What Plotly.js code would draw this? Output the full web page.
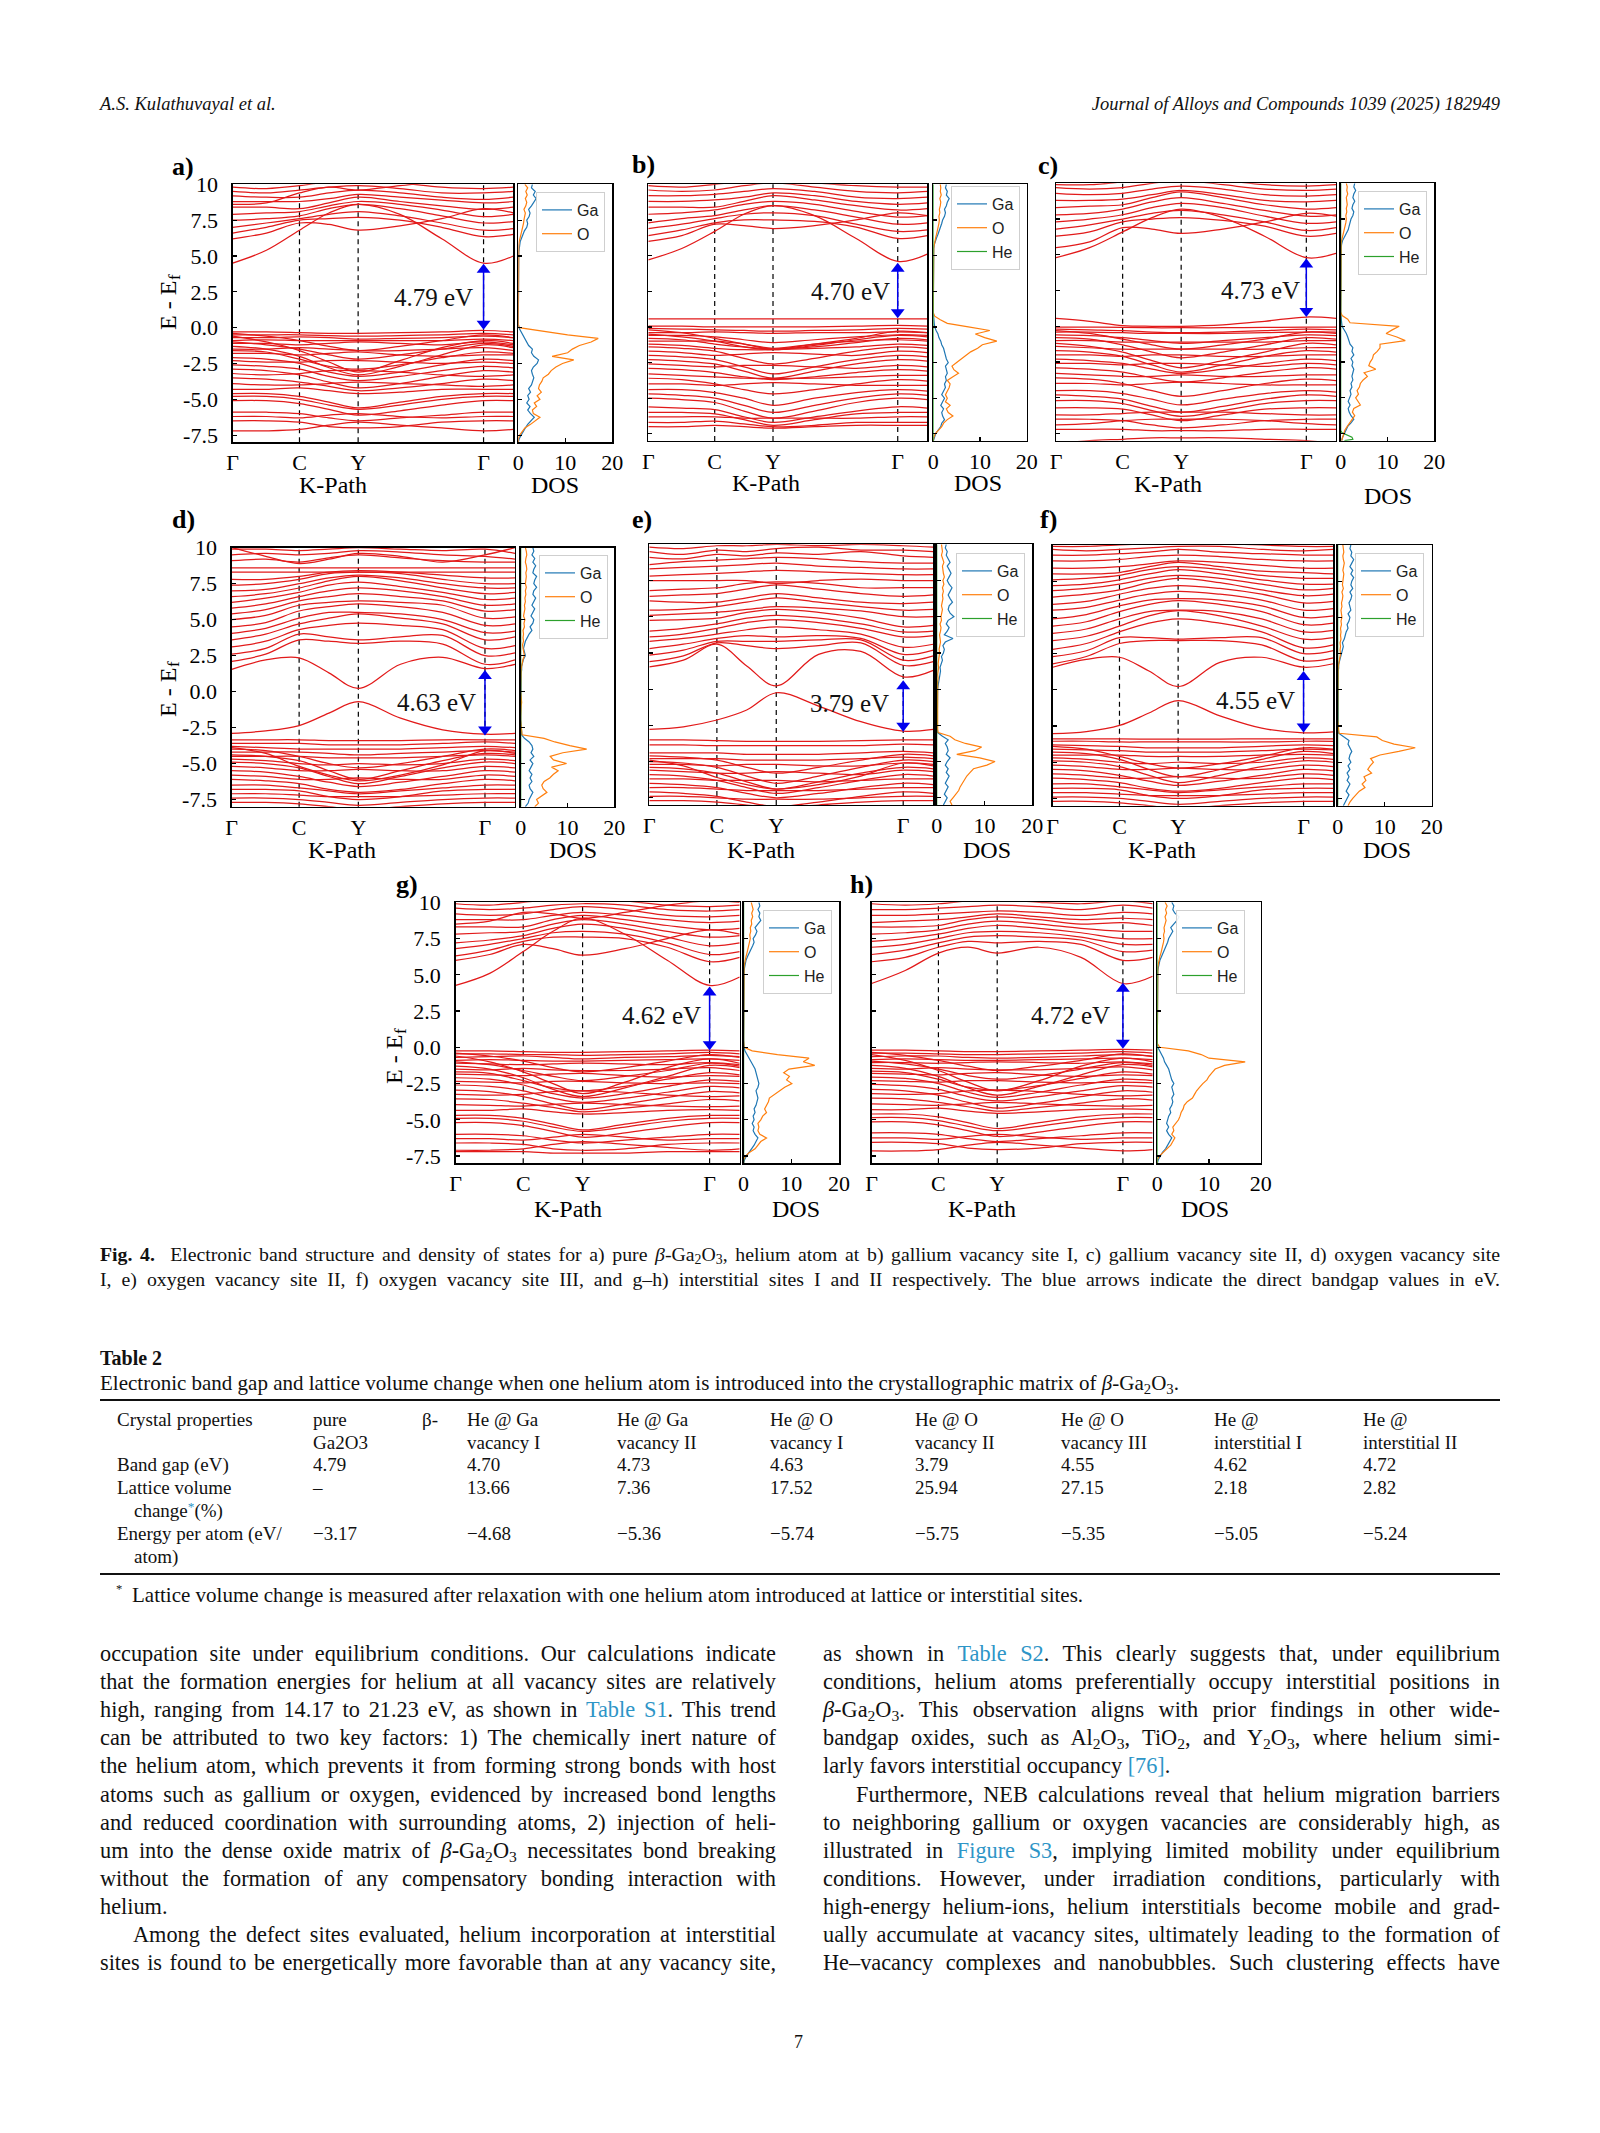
<!DOCTYPE html>
<html><head><meta charset="utf-8">
<script src="https://cdn.plot.ly/plotly-3.0.1.min.js"></script>
<style>
html,body{margin:0;padding:0;background:#fff;}
#page{position:relative;width:1600px;height:2133px;overflow:hidden;background:#fff;}
#chart{position:absolute;left:0;top:0;width:1600px;height:2133px;}
.t,.jj{position:absolute;font-family:"Liberation Serif","Times New Roman",serif;color:#111;white-space:nowrap;}
.lk{color:#2e95c7;}
sub{font-size:0.7em;vertical-align:-0.25em;line-height:0;}
sup{font-size:0.7em;vertical-align:0.45em;line-height:0;}
.rule{position:absolute;left:100px;width:1400px;height:2px;background:#111;}
</style></head><body>
<div id="page"><div id="chart"></div><div id="texts"></div></div>
<script>
// ---------------- DATA ----------------
const kPath = [0, 0.12, 0.238, 0.343, 0.447, 0.596, 0.745, 0.894, 1.0];
const kTickVals = [0, 0.238, 0.447, 0.894];
const kTickText = ['Γ', 'C', 'Y', 'Γ'];
const energyTicks = [-7.5, -5, -2.5, 0, 2.5, 5, 7.5, 10];
const energyTickText = ['-7.5', '-5.0', '-2.5', '0.0', '2.5', '5.0', '7.5', '10'];
const dosTicks = [0, 10, 20];
const panelLetters = ['a)', 'b)', 'c)', 'd)', 'e)', 'f)', 'g)', 'h)'];
const gapLabels = ['4.79 eV', '4.70 eV', '4.73 eV', '4.63 eV', '3.79 eV', '4.55 eV', '4.62 eV', '4.72 eV'];
const gapArrowEnds = [[-0.15, 4.45], [0.6, 4.5], [0.65, 4.75], [-3.05, 1.5], [-2.95, 0.62], [-2.95, 1.3], [-0.2, 4.2], [-0.1, 4.45]];
const gapK = 0.894;

const bandsA = [
[4.5,5.4,6.8,8.0,8.6,7.9,6.2,4.5,5.0],
[6.2,6.6,7.3,7.2,6.8,7.1,7.6,8.3,8.0],
[6.6,7.0,7.5,7.6,7.7,7.5,7.0,6.35,6.5],
[7.0,7.3,7.6,7.9,8.1,7.8,7.3,6.8,6.9],
[7.5,7.6,7.8,8.3,8.6,8.3,7.8,7.3,7.4],
[7.9,8.0,8.1,8.5,8.8,8.6,8.2,7.75,7.9],
[8.4,8.4,8.3,8.7,9.1,8.8,8.5,8.25,8.4],
[8.8,8.8,8.8,9.0,9.3,9.1,8.9,8.7,8.8],
[9.2,9.1,9.1,9.4,9.6,9.4,9.1,8.95,9.1],
[9.5,9.4,9.6,9.8,9.9,9.7,9.4,9.4,9.5],
[9.8,9.7,9.9,10.2,10.3,10.1,9.8,9.7,9.8],
[8.6,8.7,9.4,9.8,9.6,9.9,10.2,10.3,10.2],
[-0.3,-0.3,-0.35,-0.4,-0.4,-0.35,-0.3,-0.2,-0.3],
[-0.5,-0.5,-0.5,-0.55,-0.6,-0.55,-0.5,-0.4,-0.5],
[-0.7,-0.7,-0.65,-0.7,-0.8,-0.75,-0.7,-0.6,-0.7],
[-0.9,-0.85,-0.9,-0.9,-0.9,-0.9,-0.9,-0.8,-0.9],
[-0.6,-1.0,-1.6,-2.4,-3.1,-2.3,-1.4,-0.9,-1.1],
[-0.4,-0.6,-0.9,-1.3,-1.6,-1.3,-0.9,-0.5,-0.7],
[-1.1,-1.1,-1.2,-1.1,-1.0,-1.1,-1.2,-1.0,-1.2],
[-1.0,-1.2,-1.5,-1.9,-2.2,-1.9,-1.5,-1.1,-1.3],
[-1.3,-1.5,-2.0,-2.8,-3.3,-2.7,-1.9,-1.2,-1.4],
[-1.5,-1.5,-1.4,-1.5,-1.6,-1.6,-1.5,-1.4,-1.6],
[-1.6,-1.7,-2.2,-2.7,-2.9,-2.6,-2.1,-1.7,-1.8],
[-1.8,-1.8,-1.9,-1.8,-1.7,-1.9,-2.0,-1.9,-1.9],
[-2.1,-2.2,-2.5,-3.1,-3.4,-3.1,-2.6,-2.2,-2.3],
[-2.3,-2.4,-2.4,-2.3,-2.3,-2.4,-2.5,-2.4,-2.5],
[-2.6,-2.7,-2.9,-3.4,-3.7,-3.4,-3.0,-2.7,-2.8],
[-2.9,-3.0,-3.3,-3.8,-4.2,-3.9,-3.4,-3.0,-3.1],
[-3.2,-3.3,-3.2,-3.0,-3.0,-3.1,-3.3,-3.4,-3.3],
[-3.5,-3.6,-3.8,-4.1,-4.4,-4.2,-3.9,-3.6,-3.7],
[-3.9,-4.0,-4.0,-3.9,-3.8,-3.9,-4.0,-4.1,-4.0],
[-4.3,-4.3,-4.2,-4.4,-4.6,-4.5,-4.3,-4.3,-4.3],
[-4.6,-4.6,-4.8,-5.2,-5.6,-5.2,-4.8,-4.6,-4.6],
[-4.8,-4.8,-5.0,-5.4,-5.7,-5.4,-5.0,-4.8,-4.8],
[-5.1,-5.1,-5.3,-5.7,-6.1,-5.8,-5.4,-5.1,-5.1],
[-5.9,-5.9,-6.0,-6.3,-6.5,-6.3,-6.1,-5.9,-5.9],
[-6.2,-6.2,-6.3,-6.1,-6.0,-6.2,-6.3,-6.2,-6.2],
[-6.5,-6.5,-6.6,-6.9,-7.0,-6.9,-6.6,-6.5,-6.5],
[-7.2,-7.2,-7.1,-6.8,-6.6,-6.8,-7.0,-7.2,-7.1]
];

const bandsB = [
[4.7,5.5,6.7,7.9,8.5,7.8,6.2,4.6,5.1],
[6.0,6.4,7.2,7.1,6.9,7.1,7.5,8.0,7.8],
[6.4,6.8,7.3,7.5,7.5,7.4,7.0,6.2,6.4],
[6.9,7.2,7.6,7.9,8.0,7.8,7.2,6.7,6.8],
[7.3,7.6,7.8,8.2,8.5,8.2,7.7,7.2,7.3],
[7.9,8.0,8.2,8.6,8.8,8.6,8.1,7.7,7.8],
[8.4,8.4,8.4,8.8,9.2,8.9,8.5,8.2,8.3],
[8.8,8.8,8.9,9.1,9.4,9.2,8.8,8.6,8.7],
[9.2,9.2,9.3,9.5,9.7,9.5,9.1,9.0,9.1],
[9.6,9.5,9.6,9.9,10.1,9.8,9.5,9.4,9.5],
[9.9,9.8,10.0,10.2,10.3,10.1,9.9,9.8,9.8],
[0.56,0.56,0.56,0.56,0.56,0.56,0.56,0.56,0.56],
[0.05,0.05,0.0,0.0,0.0,0.0,0.05,0.1,0.05],
[-0.1,-0.15,-0.2,-0.25,-0.3,-0.25,-0.2,-0.1,-0.15],
[-0.4,-0.4,-0.35,-0.4,-0.45,-0.4,-0.4,-0.35,-0.4],
[-0.2,-0.4,-0.8,-1.2,-1.55,-1.2,-0.8,-0.3,-0.4],
[-0.5,-0.7,-1.0,-1.4,-1.6,-1.3,-0.9,-0.6,-0.7],
[-0.6,-0.6,-0.7,-0.9,-1.1,-0.9,-0.7,-0.55,-0.6],
[-0.8,-0.9,-1.2,-1.4,-1.55,-1.4,-1.1,-0.8,-0.9],
[-1.0,-1.0,-1.0,-1.2,-1.5,-1.2,-1.0,-0.9,-1.0],
[-1.2,-1.3,-1.5,-1.6,-1.6,-1.5,-1.4,-1.2,-1.3],
[-1.4,-1.5,-1.7,-2.2,-2.6,-2.2,-1.7,-1.4,-1.5],
[-1.7,-1.8,-2.0,-1.9,-1.8,-1.9,-2.0,-1.7,-1.8],
[-2.0,-2.1,-2.3,-2.8,-3.3,-2.8,-2.3,-2.0,-2.1],
[-2.3,-2.4,-2.6,-3.1,-3.6,-3.1,-2.6,-2.3,-2.4],
[-2.6,-2.7,-2.8,-2.7,-2.7,-2.8,-2.9,-2.7,-2.8],
[-2.9,-3.0,-3.2,-3.5,-3.7,-3.5,-3.2,-3.0,-3.1],
[-3.3,-3.4,-3.5,-3.6,-3.6,-3.6,-3.5,-3.4,-3.4],
[-3.6,-3.7,-4.0,-4.4,-4.7,-4.4,-4.0,-3.7,-3.8],
[-4.0,-4.0,-4.1,-4.0,-3.9,-4.0,-4.1,-4.1,-4.1],
[-4.4,-4.4,-4.6,-5.0,-5.5,-5.0,-4.6,-4.4,-4.5],
[-4.7,-4.8,-5.0,-5.5,-6.0,-5.5,-5.0,-4.7,-4.8],
[-5.0,-5.1,-5.3,-5.9,-6.4,-5.9,-5.3,-5.0,-5.1],
[-5.6,-5.7,-5.8,-6.3,-6.7,-6.3,-5.9,-5.6,-5.7],
[-6.0,-6.0,-6.1,-6.5,-6.9,-6.5,-6.1,-6.0,-6.0],
[-6.3,-6.3,-6.3,-6.4,-6.4,-6.4,-6.4,-6.3,-6.3],
[-6.7,-6.7,-6.6,-6.8,-7.0,-6.9,-6.7,-6.7,-6.7],
[-7.0,-7.0,-6.9,-7.0,-7.1,-7.0,-6.9,-6.9,-6.9]
];

const bandsC = [
[4.8,5.5,6.6,7.6,8.2,7.6,6.3,4.8,5.1],
[5.5,5.9,6.9,6.8,6.5,6.8,7.3,7.9,7.7],
[6.3,6.6,7.3,7.5,7.6,7.4,7.0,6.3,6.5],
[6.8,7.1,7.5,7.9,8.1,7.8,7.3,6.7,6.9],
[7.3,7.5,7.8,8.3,8.6,8.3,7.7,7.2,7.3],
[7.8,7.9,8.2,8.7,9.0,8.6,8.1,7.7,7.8],
[8.3,8.4,8.5,9.0,9.4,9.0,8.5,8.2,8.3],
[8.8,8.8,8.9,9.2,9.5,9.2,8.8,8.7,8.8],
[9.3,9.2,9.3,9.6,9.8,9.6,9.2,9.1,9.2],
[9.7,9.6,9.7,10.0,10.2,9.9,9.6,9.5,9.6],
[9.9,9.9,10.1,10.3,10.4,10.2,9.9,9.8,9.9],
[0.55,0.35,0.05,0.0,0.0,0.1,0.35,0.65,0.55],
[-0.05,-0.05,-0.08,-0.1,-0.1,-0.1,-0.08,-0.05,-0.05],
[-0.2,-0.25,-0.3,-0.4,-0.45,-0.4,-0.3,-0.2,-0.25],
[-0.4,-0.4,-0.45,-0.5,-0.5,-0.5,-0.45,-0.4,-0.4],
[-0.3,-0.5,-0.9,-1.3,-1.6,-1.3,-0.9,-0.4,-0.5],
[-0.6,-0.65,-0.8,-1.0,-1.2,-1.0,-0.8,-0.6,-0.65],
[-0.8,-0.9,-1.3,-1.8,-2.2,-1.8,-1.3,-0.8,-0.9],
[-1.0,-1.0,-1.1,-1.1,-1.1,-1.1,-1.1,-1.0,-1.0],
[-1.2,-1.4,-1.8,-2.4,-2.9,-2.4,-1.8,-1.2,-1.3],
[-1.4,-1.5,-1.6,-1.6,-1.6,-1.6,-1.6,-1.5,-1.5],
[-1.7,-1.8,-2.1,-2.7,-3.2,-2.7,-2.1,-1.7,-1.8],
[-2.0,-2.0,-2.1,-2.0,-2.0,-2.1,-2.1,-2.0,-2.0],
[-2.3,-2.4,-2.6,-3.0,-3.3,-3.0,-2.6,-2.3,-2.4],
[-2.6,-2.6,-2.7,-2.6,-2.6,-2.7,-2.8,-2.6,-2.7],
[-2.9,-3.0,-3.2,-3.6,-3.9,-3.6,-3.2,-2.9,-3.0],
[-3.3,-3.4,-3.5,-3.5,-3.4,-3.5,-3.5,-3.4,-3.4],
[-3.6,-3.7,-4.0,-4.5,-4.9,-4.5,-4.0,-3.7,-3.8],
[-4.0,-4.0,-4.1,-4.0,-3.9,-4.0,-4.1,-4.1,-4.1],
[-4.5,-4.5,-4.7,-5.1,-5.5,-5.1,-4.7,-4.5,-4.6],
[-4.8,-4.9,-5.1,-5.6,-6.0,-5.6,-5.1,-4.8,-4.9],
[-5.2,-5.2,-5.4,-5.9,-6.3,-5.9,-5.4,-5.2,-5.2],
[-5.7,-5.7,-5.8,-6.2,-6.6,-6.2,-5.8,-5.7,-5.7],
[-6.2,-6.2,-6.1,-6.0,-6.0,-6.0,-6.1,-6.2,-6.2],
[-6.5,-6.5,-6.6,-6.9,-7.1,-6.9,-6.6,-6.5,-6.5],
[-6.9,-6.8,-6.6,-6.5,-6.5,-6.5,-6.6,-6.8,-6.9],
[-7.2,-7.2,-7.2,-7.3,-7.3,-7.3,-7.2,-7.2,-7.2],
[-8.2,-8.0,-7.9,-7.8,-7.8,-7.8,-7.9,-8.0,-8.2]
];

const bandsD = [
[-2.9,-2.73,-2.36,-1.5,-0.7,-1.85,-2.66,-2.96,-2.9],
[1.55,2.2,2.35,1.3,0.23,1.9,2.38,1.6,1.9],
[2.1,2.6,3.6,3.5,3.35,3.5,3.3,1.9,2.2],
[2.6,3.0,4.0,3.8,3.6,3.8,3.9,2.5,2.7],
[3.1,3.5,4.3,4.6,4.75,4.6,4.3,3.0,3.2],
[3.6,4.0,4.7,5.1,5.4,5.1,4.7,3.6,3.8],
[4.05,4.4,5.1,5.5,5.5,5.4,5.0,4.1,4.2],
[4.5,4.8,5.6,5.9,6.1,5.9,5.5,4.6,4.7],
[5.0,5.3,6.0,6.2,6.3,6.2,6.0,5.1,5.2],
[5.4,5.7,6.3,6.6,6.8,6.6,6.3,5.6,5.7],
[5.8,6.1,6.6,7.0,7.2,7.0,6.6,6.0,6.1],
[6.2,6.5,6.9,7.4,7.6,7.3,6.9,6.4,6.5],
[6.6,6.8,7.2,7.7,8.0,7.7,7.2,6.8,6.9],
[7.0,7.1,7.5,7.9,8.1,7.9,7.5,7.2,7.2],
[7.4,7.5,7.8,8.2,8.3,8.2,7.8,7.5,7.5],
[7.8,7.8,8.0,8.3,8.4,8.3,8.1,7.9,7.9],
[8.3,8.3,8.3,8.3,8.3,8.3,8.3,8.3,8.3],
[8.6,8.6,8.6,8.6,8.6,8.6,8.6,8.6,8.6],
[9.1,9.2,9.0,9.3,9.5,9.3,9.1,9.0,9.0],
[9.5,9.6,9.5,9.6,9.8,9.7,9.5,9.4,9.2],
[9.9,9.9,9.8,9.9,10.0,9.9,9.8,9.9,9.6],
[10.0,9.4,8.9,9.2,9.6,9.4,9.0,9.5,10.0],
[-3.35,-3.35,-3.35,-3.4,-3.4,-3.4,-3.35,-3.35,-3.35],
[-3.6,-3.6,-3.6,-3.7,-3.7,-3.7,-3.6,-3.5,-3.6],
[-3.8,-3.9,-4.0,-4.0,-4.0,-4.0,-3.9,-3.8,-3.9],
[-4.0,-4.1,-4.5,-5.0,-5.3,-5.0,-4.5,-4.0,-4.1],
[-4.2,-4.2,-4.2,-4.3,-4.4,-4.3,-4.2,-4.1,-4.2],
[-4.4,-4.5,-4.8,-5.5,-6.1,-5.5,-4.8,-4.3,-4.4],
[-4.5,-4.5,-4.5,-4.6,-4.6,-4.6,-4.5,-4.4,-4.5],
[-4.7,-4.8,-5.0,-5.1,-5.0,-5.1,-5.0,-4.7,-4.8],
[-4.9,-5.0,-5.3,-5.9,-6.4,-5.9,-5.3,-4.9,-5.0],
[-5.2,-5.3,-5.5,-5.5,-5.4,-5.5,-5.5,-5.2,-5.3],
[-5.5,-5.6,-5.9,-6.3,-6.6,-6.3,-5.9,-5.5,-5.6],
[-5.8,-5.9,-6.1,-6.1,-6.0,-6.1,-6.1,-5.8,-5.9],
[-6.1,-6.2,-6.4,-6.8,-7.0,-6.8,-6.4,-6.1,-6.2],
[-6.5,-6.5,-6.7,-6.9,-7.1,-6.9,-6.7,-6.5,-6.5],
[-6.8,-6.8,-6.9,-7.3,-7.5,-7.3,-6.9,-6.8,-6.8],
[-7.1,-7.1,-7.2,-7.3,-7.3,-7.3,-7.2,-7.1,-7.1],
[-7.4,-7.4,-7.5,-7.7,-7.9,-7.7,-7.5,-7.4,-7.4],
[-7.7,-7.7,-7.8,-8.0,-8.2,-8.0,-7.8,-7.7,-7.7],
[-3.9,-4.3,-5.2,-5.8,-6.2,-5.8,-5.1,-4.1,-4.3]
];

const bandsE = [
[-2.78,-2.6,-2.13,-1.44,-0.25,-1.17,-2.25,-2.9,-2.78],
[1.54,2.0,3.1,1.6,0.23,2.4,2.6,0.85,1.3],
[1.9,2.3,3.2,3.0,2.8,3.0,3.2,1.65,1.9],
[2.35,2.7,3.3,3.3,3.3,3.4,3.4,2.0,2.3],
[2.8,3.1,3.5,3.7,3.6,3.7,3.5,2.4,2.7],
[3.3,3.5,3.8,4.1,4.3,4.1,3.8,2.9,3.1],
[3.6,3.8,4.2,4.6,4.8,4.6,4.2,3.6,3.7],
[4.0,4.2,4.5,4.9,5.1,4.9,4.5,3.95,4.0],
[4.75,4.8,4.9,5.3,5.5,5.3,4.9,4.3,4.4],
[5.1,5.2,5.3,5.5,5.7,5.6,5.4,5.0,5.0],
[5.45,5.5,5.7,6.0,6.3,6.0,5.7,5.45,5.5],
[6.1,6.0,6.0,6.3,6.6,6.3,6.0,5.9,6.0],
[6.4,6.5,6.6,6.9,7.2,6.9,6.6,6.4,6.5],
[6.8,6.9,7.0,7.3,7.4,7.3,7.0,7.0,7.0],
[7.5,7.5,7.5,7.5,7.3,7.5,7.6,7.5,7.5],
[7.8,7.9,8.0,8.1,8.2,8.1,8.0,7.9,7.9],
[8.3,8.4,8.5,8.6,8.7,8.5,8.4,8.3,8.3],
[8.6,8.8,8.9,9.0,9.1,9.0,8.8,8.7,8.7],
[9.1,9.0,9.3,9.2,9.4,9.3,9.5,9.2,9.1],
[9.5,9.3,9.6,9.5,9.7,9.8,9.6,9.6,9.5],
[9.8,9.7,9.9,9.9,10.0,9.9,10.0,9.9,9.8],
[-3.5,-3.5,-3.55,-3.6,-3.6,-3.6,-3.55,-3.5,-3.5],
[-3.85,-3.85,-3.9,-3.9,-3.9,-3.9,-3.9,-3.8,-3.85],
[-4.4,-4.4,-4.4,-4.5,-4.5,-4.5,-4.4,-4.3,-4.4],
[-4.6,-4.7,-4.9,-5.4,-5.8,-5.4,-4.9,-4.5,-4.6],
[-4.8,-4.8,-4.8,-4.9,-4.9,-4.9,-4.8,-4.7,-4.8],
[-5.0,-5.1,-5.4,-6.0,-6.5,-6.0,-5.4,-4.9,-5.0],
[-5.2,-5.2,-5.3,-5.2,-5.2,-5.3,-5.3,-5.1,-5.2],
[-5.4,-5.5,-5.8,-6.4,-6.9,-6.4,-5.8,-5.4,-5.5],
[-5.6,-5.7,-5.8,-5.8,-5.7,-5.8,-5.9,-5.6,-5.7],
[-5.9,-6.0,-6.3,-6.8,-7.2,-6.8,-6.3,-5.9,-6.0],
[-6.2,-6.2,-6.3,-6.3,-6.3,-6.4,-6.3,-6.2,-6.2],
[-6.5,-6.6,-6.8,-7.2,-7.5,-7.2,-6.8,-6.5,-6.6],
[-6.8,-6.8,-6.9,-7.0,-7.0,-7.0,-6.9,-6.8,-6.8],
[-7.1,-7.2,-7.4,-7.8,-8.1,-7.8,-7.4,-7.1,-7.2],
[-7.4,-7.4,-7.5,-7.6,-7.6,-7.6,-7.5,-7.4,-7.4],
[-7.7,-7.7,-7.8,-8.0,-8.2,-8.0,-7.8,-7.7,-7.7],
[-4.9,-5.3,-6.1,-6.6,-6.9,-6.6,-6.0,-5.1,-5.3]
];

const bandsF = [
[-3.03,-2.88,-2.46,-1.6,-0.74,-1.8,-2.65,-2.97,-2.9],
[1.56,2.1,2.25,1.3,0.23,1.9,2.25,1.56,1.8],
[1.8,2.3,3.2,3.4,3.4,3.4,3.1,2.0,2.2],
[2.3,2.7,3.6,3.6,3.5,3.6,3.6,2.5,2.7],
[2.8,3.2,4.0,4.6,4.9,4.6,4.0,2.9,3.1],
[3.4,3.7,4.4,5.1,5.47,5.1,4.4,3.5,3.6],
[3.9,4.2,4.9,5.4,5.5,5.4,4.9,4.0,4.1],
[4.4,4.7,5.4,5.9,6.16,5.9,5.4,4.5,4.6],
[4.9,5.2,5.8,6.2,6.3,6.2,5.8,5.0,5.1],
[5.5,5.7,6.2,6.6,6.8,6.6,6.2,5.5,5.6],
[5.9,6.1,6.6,7.0,7.2,7.0,6.6,6.0,6.1],
[6.4,6.6,6.9,7.4,7.7,7.4,6.9,6.5,6.6],
[6.85,7.0,7.3,7.7,7.9,7.7,7.3,6.9,7.0],
[7.2,7.3,7.6,8.0,8.3,8.0,7.6,7.3,7.3],
[7.6,7.7,7.9,8.3,8.5,8.3,7.9,7.7,7.7],
[8.0,8.0,8.1,8.5,8.8,8.5,8.2,8.1,8.0],
[8.4,8.4,8.5,8.7,8.9,8.8,8.6,8.4,8.4],
[8.9,8.9,9.0,9.2,9.3,9.2,9.0,8.9,8.9],
[9.3,9.3,9.4,9.5,9.7,9.5,9.4,9.3,9.3],
[9.7,9.6,9.7,9.8,9.9,9.9,9.7,9.6,9.7],
[9.9,9.9,10.0,10.1,10.2,10.1,10.0,9.9,9.9],
[-3.38,-3.38,-3.38,-3.4,-3.4,-3.4,-3.38,-3.38,-3.38],
[-3.55,-3.55,-3.6,-3.6,-3.6,-3.6,-3.6,-3.55,-3.55],
[-3.8,-3.85,-3.9,-4.0,-4.0,-4.0,-3.9,-3.8,-3.85],
[-3.9,-4.1,-4.6,-5.1,-5.4,-5.1,-4.6,-4.0,-4.1],
[-4.1,-4.15,-4.2,-4.3,-4.3,-4.3,-4.2,-4.1,-4.15],
[-4.3,-4.4,-4.8,-5.5,-6.0,-5.5,-4.8,-4.25,-4.4],
[-4.5,-4.5,-4.5,-4.6,-4.6,-4.6,-4.5,-4.45,-4.5],
[-4.7,-4.8,-5.0,-5.1,-5.0,-5.1,-5.0,-4.7,-4.8],
[-4.9,-5.0,-5.3,-5.9,-6.4,-5.9,-5.3,-4.9,-5.0],
[-5.2,-5.3,-5.5,-5.5,-5.4,-5.5,-5.5,-5.2,-5.3],
[-5.5,-5.6,-5.9,-6.3,-6.6,-6.3,-5.9,-5.5,-5.6],
[-5.8,-5.9,-6.1,-6.1,-6.0,-6.1,-6.1,-5.8,-5.9],
[-6.1,-6.2,-6.4,-6.8,-7.0,-6.8,-6.4,-6.1,-6.2],
[-6.5,-6.5,-6.7,-6.9,-7.1,-6.9,-6.7,-6.5,-6.5],
[-6.8,-6.8,-6.9,-7.3,-7.5,-7.3,-6.9,-6.8,-6.8],
[-7.1,-7.1,-7.2,-7.3,-7.3,-7.3,-7.2,-7.1,-7.1],
[-7.4,-7.4,-7.5,-7.7,-7.9,-7.7,-7.5,-7.4,-7.4],
[-7.7,-7.7,-7.8,-8.0,-8.2,-8.0,-7.8,-7.7,-7.7]
];

const bandsG = [
[4.27,5.1,6.6,8.0,8.9,7.8,6.0,4.27,4.85],
[6.0,6.4,7.1,6.8,6.35,6.8,7.5,8.1,7.8],
[6.3,6.7,7.3,7.6,7.6,7.5,6.9,5.9,6.2],
[6.8,7.1,7.5,7.9,8.0,7.8,7.2,6.4,6.6],
[7.2,7.4,7.7,8.2,8.5,8.2,7.6,7.0,7.2],
[7.8,7.9,8.0,8.5,8.8,8.5,8.0,7.6,7.7],
[8.3,8.3,8.3,8.8,9.1,8.8,8.4,8.1,8.2],
[8.8,8.8,8.8,9.1,9.3,9.1,8.8,8.6,8.7],
[9.2,9.1,9.2,9.5,9.7,9.5,9.1,9.0,9.1],
[9.6,9.5,9.6,9.8,9.9,9.8,9.5,9.4,9.5],
[9.9,9.8,10.0,10.2,10.3,10.1,9.8,9.7,9.8],
[8.5,8.7,9.3,9.2,8.9,9.3,9.8,10.1,10.0],
[-0.25,-0.25,-0.3,-0.35,-0.35,-0.3,-0.25,-0.2,-0.25],
[-0.45,-0.45,-0.5,-0.5,-0.55,-0.5,-0.45,-0.35,-0.45],
[-0.7,-0.65,-0.6,-0.7,-0.8,-0.7,-0.65,-0.55,-0.65],
[-0.9,-0.85,-0.9,-0.95,-0.95,-0.9,-0.85,-0.8,-0.9],
[-0.6,-1.0,-1.7,-2.5,-3.2,-2.4,-1.4,-0.8,-1.1],
[-0.4,-0.6,-0.95,-1.4,-1.7,-1.4,-0.95,-0.5,-0.7],
[-1.1,-1.15,-1.2,-1.15,-1.1,-1.15,-1.2,-1.05,-1.2],
[-1.0,-1.2,-1.6,-2.0,-2.3,-2.0,-1.6,-1.1,-1.3],
[-1.3,-1.5,-2.1,-2.9,-3.4,-2.8,-2.0,-1.25,-1.4],
[-1.5,-1.55,-1.45,-1.55,-1.6,-1.6,-1.5,-1.4,-1.6],
[-1.7,-1.8,-2.3,-2.8,-3.0,-2.7,-2.2,-1.75,-1.9],
[-1.85,-1.9,-1.95,-1.85,-1.8,-1.95,-2.05,-1.95,-2.0],
[-2.1,-2.2,-2.6,-3.2,-3.5,-3.2,-2.7,-2.25,-2.35],
[-2.35,-2.4,-2.45,-2.35,-2.35,-2.45,-2.5,-2.45,-2.5],
[-2.6,-2.7,-3.0,-3.5,-3.8,-3.5,-3.1,-2.7,-2.8],
[-2.95,-3.05,-3.4,-3.9,-4.3,-3.9,-3.45,-3.05,-3.15],
[-3.25,-3.3,-3.25,-3.05,-3.0,-3.1,-3.3,-3.4,-3.35],
[-3.55,-3.6,-3.85,-4.15,-4.45,-4.2,-3.9,-3.6,-3.7],
[-3.95,-4.0,-4.05,-3.95,-3.85,-3.95,-4.05,-4.1,-4.05],
[-4.35,-4.35,-4.25,-4.45,-4.6,-4.5,-4.35,-4.3,-4.35],
[-4.7,-4.7,-4.9,-5.3,-5.7,-5.3,-4.9,-4.7,-4.7],
[-4.9,-4.9,-5.1,-5.5,-5.8,-5.5,-5.1,-4.9,-4.9],
[-5.2,-5.2,-5.4,-5.8,-6.2,-5.9,-5.5,-5.2,-5.2],
[-6.0,-6.0,-6.1,-6.4,-6.6,-6.4,-6.2,-6.0,-6.0],
[-6.3,-6.3,-6.4,-6.2,-6.0,-6.2,-6.4,-6.3,-6.3],
[-6.6,-6.6,-6.7,-7.0,-7.1,-7.0,-6.7,-6.6,-6.6],
[-7.1,-7.1,-7.0,-6.7,-6.5,-6.7,-6.9,-7.1,-7.0],
[-7.2,-7.2,-7.2,-7.3,-7.3,-7.3,-7.2,-7.2,-7.2]
];

const bandsH = [
[4.4,5.3,6.5,6.9,6.5,6.9,6.2,4.4,4.9],
[5.9,6.2,6.9,7.3,7.2,7.3,7.1,6.0,6.2],
[6.4,6.7,7.2,7.6,7.7,7.6,7.4,6.6,6.7],
[6.9,7.1,7.5,7.9,8.0,7.9,7.6,7.1,7.1],
[7.3,7.5,7.8,8.2,8.4,8.2,7.9,7.5,7.5],
[7.8,7.9,8.1,8.5,8.7,8.5,8.2,8.0,8.0],
[8.3,8.3,8.4,8.8,9.0,8.8,8.5,8.6,8.4],
[8.6,8.7,8.8,9.0,9.2,9.0,8.8,8.9,8.8],
[9.1,9.1,9.2,9.3,9.4,9.3,9.1,9.3,9.2],
[9.5,9.5,9.6,9.7,9.8,9.7,9.5,9.8,9.6],
[9.9,9.8,9.9,10.1,10.2,10.0,9.9,10.1,9.9],
[-0.2,-0.2,-0.25,-0.3,-0.3,-0.25,-0.2,-0.15,-0.2],
[-0.4,-0.4,-0.45,-0.5,-0.5,-0.45,-0.4,-0.3,-0.4],
[-0.65,-0.6,-0.6,-0.7,-0.75,-0.7,-0.6,-0.5,-0.6],
[-0.85,-0.8,-0.85,-0.9,-0.9,-0.85,-0.8,-0.75,-0.85],
[-0.5,-0.9,-1.6,-2.4,-3.0,-2.3,-1.3,-0.75,-1.0],
[-0.35,-0.55,-0.9,-1.3,-1.6,-1.3,-0.9,-0.45,-0.65],
[-1.05,-1.05,-1.1,-1.05,-1.0,-1.05,-1.1,-1.0,-1.15],
[-0.95,-1.15,-1.5,-1.95,-2.2,-1.95,-1.5,-1.05,-1.25],
[-1.25,-1.45,-2.0,-2.8,-3.3,-2.7,-1.9,-1.2,-1.35],
[-1.45,-1.5,-1.4,-1.5,-1.55,-1.55,-1.45,-1.35,-1.55],
[-1.65,-1.75,-2.2,-2.75,-2.95,-2.65,-2.15,-1.7,-1.85],
[-1.8,-1.85,-1.9,-1.8,-1.75,-1.9,-2.0,-1.9,-1.95],
[-2.05,-2.15,-2.5,-3.1,-3.45,-3.1,-2.6,-2.2,-2.3],
[-2.3,-2.35,-2.4,-2.3,-2.3,-2.4,-2.45,-2.4,-2.45],
[-2.55,-2.65,-2.9,-3.4,-3.7,-3.4,-3.0,-2.65,-2.75],
[-2.9,-3.0,-3.3,-3.8,-4.2,-3.85,-3.4,-3.0,-3.1],
[-3.2,-3.25,-3.2,-3.0,-2.95,-3.05,-3.25,-3.35,-3.3],
[-3.5,-3.55,-3.8,-4.1,-4.4,-4.15,-3.85,-3.55,-3.65],
[-3.9,-3.95,-4.0,-3.9,-3.8,-3.9,-4.0,-4.05,-4.0],
[-4.3,-4.3,-4.2,-4.4,-4.55,-4.45,-4.3,-4.25,-4.3],
[-4.6,-4.6,-4.8,-5.2,-5.6,-5.2,-4.8,-4.6,-4.6],
[-4.85,-4.85,-5.05,-5.45,-5.75,-5.45,-5.05,-4.85,-4.85],
[-5.15,-5.15,-5.35,-5.75,-6.15,-5.85,-5.45,-5.15,-5.15],
[-5.9,-5.9,-6.0,-6.3,-6.5,-6.3,-6.1,-5.9,-5.9],
[-6.25,-6.25,-6.35,-6.15,-6.0,-6.2,-6.35,-6.25,-6.25],
[-6.55,-6.55,-6.65,-6.95,-7.05,-6.95,-6.65,-6.55,-6.55],
[-7.15,-7.15,-7.05,-6.75,-6.55,-6.75,-6.95,-7.15,-7.05]
];

const dosEnergy = [-8,-7.75,-7.5,-7.25,-7,-6.75,-6.5,-6.25,-6,-5.75,-5.5,-5.25,-5,-4.75,-4.5,-4.25,-4,-3.75,-3.5,-3.25,-3,-2.75,-2.5,-2.25,-2,-1.75,-1.5,-1.25,-1,-0.75,-0.5,-0.25,0,0.25,0.5,0.75,1,1.25,1.5,1.75,2,2.25,2.5,2.75,3,3.25,3.5,3.75,4,4.25,4.5,4.75,5,5.25,5.5,5.75,6,6.25,6.5,6.75,7,7.25,7.5,7.75,8,8.25,8.5,8.75,9,9.25,9.5,9.75,10];

const dosA_O = [0,0,0.3,0.9,1.4,2.6,3.6,4.6, 3.2,3.0,3.9,3.4,4.6,4.0,4.9,4.3, 4.5,5.0,5.3,6.4,7.0,8.0,9.4,11.8, 7.2,10.5,11.5,13.0,15.5,17.0,10.5,5.0, 0.2,0,0,0,0,0,0,0, 0,0,0,0,0,0,0,0, 0,0,0,0,0,0,0.05,0.1, 0.2,0.4,0.6,0.8,1.0,1.1,1.2,1.3, 1.5,1.2,1.6,1.8,1.5,1.9,1.6,2.0,1.4];
const dosA_Ga = [0,0.2,0.6,1.0,1.5,2.0,2.6,3.4, 2.6,2.0,2.5,1.8,2.3,2.0,2.6,2.2, 2.8,3.1,3.3,3.0,2.8,3.2,4.0,4.3, 3.3,2.8,3.0,2.2,1.8,1.4,1.0,0.5, 0.1,0,0,0,0,0,0,0, 0,0,0,0,0,0,0,0, 0,0,0,0,0.05,0.1,0.2,0.3, 0.4,0.7,1.0,1.3,1.8,2.0,1.8,2.3, 2.5,2.2,2.8,3.4,3.8,3.2,3.6,2.8,3.0];
const dosB_O = [0,0.1,0.4,1.2,1.8,2.2,3.0,4.2, 3.2,2.8,3.6,2.6,3.0,2.6,3.0,3.4, 3.6,3.0,4.2,5.4,4.4,4.0,5.0,6.0, 7.0,8.0,9.5,10.5,13.6,11.0,9.0,12.1, 7.5,3.0,1.5,0.3,0,0,0,0, 0,0,0,0,0,0,0,0, 0,0,0,0,0,0.05,0.1,0.2, 0.3,0.5,0.7,0.9,1.1,1.2,1.3,1.2, 1.4,1.3,1.5,1.6,1.4,1.7,1.5,1.6,1.5];
const dosB_Ga = [0,0.2,0.5,1.0,1.6,1.8,2.4,2.0, 1.8,2.2,1.6,2.0,2.4,1.8,2.2,2.6, 2.4,2.8,2.6,3.0,2.8,2.6,3.2,2.8, 2.6,2.4,2.2,1.8,1.6,1.2,1.0,0.6, 0.3,0.2,0.1,0,0,0,0,0, 0,0,0,0,0,0,0,0, 0,0,0,0,0,0.05,0.1,0.2, 0.4,0.7,1.0,1.3,1.6,1.8,2.0,2.4, 2.6,2.4,2.8,3.0,3.4,2.8,3.0,2.6,2.8];
const dosC_O = [0.2,0.4,0.6,0.9,1.4,2.0,2.6,3.0, 2.5,2.8,4.2,3.6,3.2,3.8,3.5,4.0, 4.2,4.8,5.7,5.0,7.5,6.0,6.3,6.8, 7.0,7.8,8.4,8.4,13.8,12.0,9.7,11.0, 12.5,2.0,1.5,0.3,0,0,0,0, 0,0,0,0,0,0,0,0, 0,0,0,0,0,0,0.05,0.1, 0.2,0.4,0.6,0.8,1.0,1.1,1.2,1.1, 1.3,1.2,1.4,1.3,1.2,1.5,1.3,1.4,1.2];
const dosC_Ga = [0.2,0.4,0.8,1.2,1.5,2.2,2.8,2.2, 1.8,1.6,2.0,1.6,1.9,2.2,2.0,2.4, 2.2,2.6,2.4,2.6,2.8,2.4,2.6,2.2, 2.8,2.4,2.6,2.0,1.8,1.5,1.2,0.8, 0.3,0.2,0.1,0,0,0,0,0, 0,0,0,0,0,0,0,0, 0,0,0,0,0,0,0.1,0.2, 0.4,0.8,1.2,1.6,1.8,2.0,2.2,2.6, 2.8,2.4,2.6,3.0,2.6,2.8,3.2,2.8,3.0];
const dosD_O = [3.0,3.8,3.4,4.6,5.6,4.8,4.5,5.0, 6.2,7.0,8.0,6.6,9.8,7.0,6.3,9.0, 14.1,10.5,7.3,5.0,0.3,0.2,0.1,0.1, 0,0,0,0,0.1,0.2,0.1,0, 0,0,0,0,0,0,0.1,0.2, 0.3,0.5,0.8,0.6,0.5,0.4,0.6,0.5, 0.6,0.5,0.8,0.7,0.9,0.6,0.8,0.9, 0.8,1.0,0.9,1.1,1.0,1.2,1.0,1.1, 1.2,1.1,1.3,1.2,1.0,1.1,1.3,1.2,1.0];
const dosD_Ga = [1.0,1.6,1.8,2.2,2.6,2.0,1.8,2.4, 2.0,2.4,1.8,2.2,2.6,2.0,2.8,2.2, 2.6,2.4,1.8,0.8,0.2,0.2,0.1,0.1, 0,0,0,0,0.1,0.1,0.1,0, 0,0,0,0,0,0.1,0.2,0.2, 0.4,0.6,1.0,0.8,0.6,0.8,1.0,1.4, 1.8,2.4,2.0,2.6,2.8,2.2,2.6,3.0, 2.4,2.8,3.2,2.6,2.8,3.4,2.8,3.0, 3.4,2.6,2.8,3.2,2.6,3.0,2.4,2.8,2.6];
const dosE_O = [3.2,2.8,3.4,4.0,4.6,4.9,5.4,5.8, 6.3,7.0,7.7,10.5,12.2,9.0,4.2,8.0, 9.4,6.0,3.8,2.8,0.3,0.2,0.2,0.1, 0.1,0.1,0.1,0.1,0.1,0.1,0.1,0.1, 0.2,0.1,0.2,0.3,0.2,0.3,0.4,0.3, 0.4,0.5,0.6,0.5,0.6,0.8,0.7,0.6, 0.8,0.9,0.7,1.0,0.9,1.1,1.2,1.0, 1.1,1.3,1.2,1.4,1.2,1.5,1.3,1.6, 1.4,1.3,1.2,1.5,1.3,1.0,1.2,1.1,1.0];
const dosE_Ga = [1.4,1.8,2.2,1.6,2.0,2.4,1.8,2.2, 2.6,2.0,2.4,1.8,2.2,2.8,2.0,2.4, 2.2,1.8,2.4,1.2,0.2,0.1,0.1,0.1, 0.1,0.1,0.1,0.1,0.1,0.1,0.1,0.1, 0.2,0.3,0.4,0.5,0.6,0.8,0.7,1.0, 1.2,1.0,1.4,1.6,1.3,1.8,3.4,1.6, 2.2,2.6,2.0,2.4,3.6,2.8,2.4,2.6, 3.3,2.8,2.4,2.8,3.2,2.6,2.2,2.6, 3.0,2.6,2.2,2.8,2.4,2.0,2.2,1.8,2.0];
const dosF_O = [2.2,2.6,3.2,4.0,4.6,5.8,5.2,6.0, 5.6,7.2,6.4,6.9,7.6,7.0,9.0,13.0, 16.5,12.0,9.5,8.3,0.3,0.2,0.1,0.1, 0,0,0,0,0.1,0.1,0.1,0, 0,0,0,0,0,0,0.1,0.2, 0.3,0.4,0.6,0.5,0.6,0.5,0.7,0.6, 0.7,0.6,0.8,0.7,0.9,0.8,0.7,0.9, 0.8,1.0,1.1,0.9,1.2,1.0,1.1,1.2, 1.3,1.1,1.2,1.4,1.2,1.1,1.3,1.2,1.1];
const dosF_Ga = [1.2,1.6,2.0,2.4,1.8,2.2,2.6,2.0, 2.4,2.0,2.6,2.2,2.8,2.4,2.6,3.0, 2.6,2.2,2.4,1.4,0.2,0.1,0.1,0.1, 0,0,0,0,0.1,0.1,0.1,0, 0,0,0,0,0,0.1,0.2,0.2, 0.4,0.6,0.8,1.0,1.2,1.0,1.4,1.6, 1.8,2.2,2.0,2.4,2.6,2.2,2.8,2.6, 2.4,2.8,3.0,2.6,3.2,2.8,3.0,3.4, 2.8,3.2,2.6,3.0,3.4,2.8,3.0,2.6,2.8];
const dosG_O = [0,0,0.4,1.2,2.4,3.0,3.6,4.8, 3.4,3.0,3.2,3.0,3.6,4.0,4.8,4.4, 4.8,5.2,5.4,6.4,7.6,8.6,10.1,9.0, 9.6,8.4,9.5,14.9,12.5,13.7,7.1,1.8, 0.1,0,0,0,0,0,0,0, 0,0,0,0,0,0,0,0, 0,0,0,0,0,0.05,0.1,0.2, 0.3,0.5,0.7,0.9,1.1,1.2,1.4,1.3, 1.5,1.4,1.7,1.6,1.9,1.7,2.0,1.8,1.6];
const dosG_Ga = [0,0.2,0.6,1.2,1.6,2.2,2.6,3.0, 2.4,2.0,2.2,1.8,2.2,2.0,2.4,2.2, 2.6,2.8,3.0,2.8,2.6,3.0,3.2,3.0, 2.8,2.6,2.4,2.0,1.6,1.2,0.8,0.3, 0.1,0,0,0,0,0,0,0, 0,0,0,0,0,0,0,0, 0,0,0,0,0.05,0.1,0.2,0.3, 0.5,0.8,1.2,1.5,1.9,2.2,2.0,2.5, 2.8,2.4,3.0,3.6,3.2,3.4,3.0,3.4,3.2];
const dosH_O = [0,0,0.4,1.2,2.0,2.6,3.0,3.4, 2.8,3.2,3.0,3.6,4.1,4.4,4.6,5.0, 5.2,5.8,6.8,7.2,7.6,8.2,8.8,9.6, 10.0,10.6,11.2,13.0,17.0,10.0,8.5,6.0, 0.5,0,0,0,0,0,0,0, 0,0,0,0,0,0,0,0, 0,0,0,0,0,0.05,0.1,0.2, 0.3,0.5,0.7,0.9,1.0,1.2,1.3,1.2, 1.4,1.3,1.5,1.7,1.5,1.8,1.6,1.9,1.5];
const dosH_Ga = [0,0.2,0.6,1.0,1.6,2.0,2.4,2.8, 2.2,1.8,2.2,1.8,2.0,2.2,2.6,2.4, 2.8,3.0,2.8,3.2,3.0,2.8,3.2,2.8, 2.6,2.4,2.2,1.8,1.4,1.2,0.8,0.4, 0.1,0,0,0,0,0,0,0, 0,0,0,0,0,0,0,0, 0,0,0,0,0.05,0.1,0.2,0.3, 0.5,0.8,1.1,1.4,1.8,2.0,2.2,2.6, 3.0,2.6,3.2,3.8,4.2,3.4,3.0,3.2,2.8];
const heEnergyC = [-8,-7.9,-7.75,-7.6,-7.45,-7.3,10];
const heDosC = [0.8,2.6,2.4,1.2,0.3,0,0];
const heEnergyFlat = [-8, 10];
const heDosFlat = [0, 0];

const tableHead1 = ['Crystal properties','pure','β-','He @ Ga','He @ Ga','He @ O','He @ O','He @ O','He @','He @'];
const tableHead2 = ['','Ga2O3','','vacancy I','vacancy II','vacancy I','vacancy II','vacancy III','interstitial I','interstitial II'];
const bandGapValues = ['4.79','4.70','4.73','4.63','3.79','4.55','4.62','4.72'];
const latticeChangeValues = ['–','13.66','7.36','17.52','25.94','27.15','2.18','2.82'];
const energyPerAtomValues = ['−3.17','−4.68','−5.36','−5.74','−5.75','−5.35','−5.05','−5.24'];

// ---------------- LAYOUT CONFIG ----------------
const W = 1600, H = 2133;
const px = v => v / W;
const py = v => 1 - v / H;
const SERIF = 'Liberation Serif, Times New Roman, serif';
const SANS = 'Liberation Sans, Arial, sans-serif';
const panelBoxes = [
 {L:232.7,R:513.3,T:184.3,B:442.3,DL:518.3,DR:612.3, letter:[183,166], kp:[333,485], ds:[555,485], yt:[168,303], leg:[605,192], lab:[0.714,2.13], yl:true},
 {L:648.3,R:927.3,T:184.3,B:441,DL:933.3,DR:1026.7, letter:[643,164], kp:[766,483], ds:[978,483], leg:[1020,186], lab:[0.723,2.49]},
 {L:1056,R:1336,T:183.3,B:440.7,DL:1340.7,DR:1434.3, letter:[1048,165], kp:[1168,484], ds:[1388,496], leg:[1427,191], lab:[0.729,2.47]},
 {L:231.7,R:515,T:547.7,B:806.7,DL:520.7,DR:614.3, letter:[183,519], kp:[342,850], ds:[573,850], yt:[168,690], leg:[608,555], lab:[0.724,-0.76], yl:true},
 {L:649.3,R:933.3,T:544.3,B:805,DL:936.7,DR:1032.3, letter:[642,520], kp:[761,850], ds:[987,850], leg:[1025,553], lab:[0.705,-0.99]},
 {L:1052.7,R:1333.3,T:545,B:805.7,DL:1337.7,DR:1431.7, letter:[1048,520], kp:[1162,850], ds:[1387,850], leg:[1424,553], lab:[0.722,-0.74]},
 {L:455.6,R:739.7,T:902.3,B:1163.3,DL:743.6,DR:839.1, letter:[407,884], kp:[568,1209], ds:[796,1209], yt:[394,1057], leg:[832,910], lab:[0.724,2.19], yl:true},
 {L:871.5,R:1152.7,T:902.3,B:1163.3,DL:1157.3,DR:1260.7, letter:[861,884], kp:[982,1209], ds:[1205,1209], leg:[1245,910], lab:[0.707,2.19]}
];
const bandSets = [bandsA, bandsB, bandsC, bandsD, bandsE, bandsF, bandsG, bandsH];
const dosSets = [
 {ga:dosA_Ga, o:dosA_O},
 {ga:dosB_Ga, o:dosB_O, heE:heEnergyFlat, he:heDosFlat},
 {ga:dosC_Ga, o:dosC_O, heE:heEnergyC, he:heDosC},
 {ga:dosD_Ga, o:dosD_O, heE:heEnergyFlat, he:heDosFlat},
 {ga:dosE_Ga, o:dosE_O, heE:heEnergyFlat, he:heDosFlat},
 {ga:dosF_Ga, o:dosF_O, heE:heEnergyFlat, he:heDosFlat},
 {ga:dosG_Ga, o:dosG_O, heE:heEnergyFlat, he:heDosFlat},
 {ga:dosH_Ga, o:dosH_O, heE:heEnergyFlat, he:heDosFlat}
];

const traces = [];
const layout = {width:W, height:H, margin:{l:0,r:0,t:0,b:0}, paper_bgcolor:'#fff', plot_bgcolor:'#fff',
  hovermode:false, annotations:[], shapes:[]};
const frame = {showline:true, mirror:true, linecolor:'#000', linewidth:1.4, showgrid:false, zeroline:false, fixedrange:true};

panelBoxes.forEach((p, i) => {
  const bx = 2*i+1, dx = 2*i+2;
  const bxs = bx === 1 ? '' : String(bx);
  const legName = i === 0 ? 'legend' : 'legend' + (i+1);
  const yDom = [py(p.B), py(p.T)];
  const ePerPx = 18 / (p.B - p.T);
  layout['xaxis'+bxs] = Object.assign({}, frame, {domain:[px(p.L), px(p.R)], range:[0,1], anchor:'y'+bxs,
    tickmode:'array', tickvals:kTickVals, ticktext:kTickText, ticks:'', tickfont:{family:SERIF, size:22, color:'#000'}});
  layout['yaxis'+bxs] = Object.assign({}, frame, {domain:yDom, range:[-8,10], anchor:'x'+bxs,
    tickmode:'array', tickvals:energyTicks, ticktext:energyTickText, ticks:'inside', ticklen:4, tickwidth:1.2, tickcolor:'#000',
    showticklabels:!!p.yl, ticklabelstandoff:9, tickfont:{family:SERIF, size:22, color:'#000'}});
  layout['xaxis'+dx] = Object.assign({}, frame, {domain:[px(p.DL), px(p.DR)], range:[0,20], anchor:'y'+dx,
    tickmode:'array', tickvals:dosTicks, ticktext:['0','10','20'], ticks:'inside', ticklen:4, tickwidth:1.2, tickcolor:'#000',
    tickfont:{family:SERIF, size:22, color:'#000'}});
  layout['yaxis'+dx] = Object.assign({}, frame, {domain:yDom, range:[-8,10], anchor:'x'+dx,
    tickmode:'array', tickvals:energyTicks, ticks:'inside', ticklen:4, tickwidth:1.2, tickcolor:'#000', showticklabels:false});

  bandSets[i].forEach(b => traces.push({type:'scatter', mode:'lines', x:kPath, y:b, xaxis:'x'+bxs, yaxis:'y'+bxs,
    line:{color:'rgb(226,26,26)', width:1.25, shape:'spline', smoothing:1}, showlegend:false, hoverinfo:'skip'}));

  const ae = gapArrowEnds[i];
  const headOff = 6 * ePerPx;
  traces.push({type:'scatter', mode:'lines', x:[gapK, gapK], y:[ae[0] + headOff, ae[1] - headOff], xaxis:'x'+bxs, yaxis:'y'+bxs,
    line:{color:'#0000ee', width:1.5}, showlegend:false, hoverinfo:'skip'});
  traces.push({type:'scatter', mode:'markers', x:[gapK, gapK], y:[ae[0] + headOff, ae[1] - headOff], xaxis:'x'+bxs, yaxis:'y'+bxs,
    marker:{symbol:['triangle-down','triangle-up'], size:12, color:'#0000ee', line:{width:0}}, showlegend:false, hoverinfo:'skip', cliponaxis:false});

  const d = dosSets[i];
  traces.push({type:'scatter', mode:'lines', x:d.ga, y:dosEnergy, xaxis:'x'+dx, yaxis:'y'+dx, name:'Ga', legend:legName,
    line:{color:'#1f77b4', width:1.2}, showlegend:true});
  traces.push({type:'scatter', mode:'lines', x:d.o, y:dosEnergy, xaxis:'x'+dx, yaxis:'y'+dx, name:'O', legend:legName,
    line:{color:'#ff7f0e', width:1.2}, showlegend:true});
  if (d.he) traces.push({type:'scatter', mode:'lines', x:d.he, y:d.heE, xaxis:'x'+dx, yaxis:'y'+dx, name:'He', legend:legName,
    line:{color:'#2ca02c', width:1.2}, showlegend:true});
  layout[legName] = {x:px(p.leg[0]), xanchor:'right', y:py(p.leg[1]), yanchor:'top', xref:'paper', yref:'paper',
    bgcolor:'rgba(255,255,255,0.9)', bordercolor:'#cfcfcf', borderwidth:1, font:{family:SANS, size:16, color:'#222'},
    itemwidth:30, tracegroupgap:0, traceorder:'normal'};

  [kTickVals[1], kTickVals[2], kTickVals[3]].forEach(k => layout.shapes.push({type:'line', xref:'x'+bxs, yref:'y'+bxs+' domain',
    x0:k, x1:k, y0:0, y1:1, line:{color:'#000', width:1.2, dash:'5px,4px'}, layer:'below'}));

  layout.annotations.push({xref:'x'+bxs, yref:'y'+bxs, x:p.lab[0], y:p.lab[1], text:gapLabels[i], showarrow:false,
    font:{family:SERIF, size:25, color:'#111'}, xanchor:'center', yanchor:'middle'});
  layout.annotations.push({xref:'paper', yref:'paper', x:px(p.letter[0]), y:py(p.letter[1]), text:'<b>'+panelLetters[i]+'</b>',
    showarrow:false, font:{family:SERIF, size:26, color:'#000'}, xanchor:'center', yanchor:'middle'});
  layout.annotations.push({xref:'paper', yref:'paper', x:px(p.kp[0]), y:py(p.kp[1]), text:'K-Path', showarrow:false,
    font:{family:SERIF, size:24, color:'#000'}, xanchor:'center', yanchor:'middle'});
  layout.annotations.push({xref:'paper', yref:'paper', x:px(p.ds[0]), y:py(p.ds[1]), text:'DOS', showarrow:false,
    font:{family:SERIF, size:24, color:'#000'}, xanchor:'center', yanchor:'middle'});
  if (p.yt) {
    layout.annotations.push({xref:'paper', yref:'paper', x:px(p.yt[0]), y:py(p.yt[1] + 3), text:'E - E',
      textangle:-90, showarrow:false, font:{family:SERIF, size:24, color:'#000'}, xanchor:'center', yanchor:'middle'});
    layout.annotations.push({xref:'paper', yref:'paper', x:px(p.yt[0] + 6), y:py(p.yt[1] - 26), text:'f',
      textangle:-90, showarrow:false, font:{family:SERIF, size:17, color:'#000'}, xanchor:'center', yanchor:'middle'});
  }
});

Plotly.newPlot('chart', traces, layout, {staticPlot:true, displayModeBar:false});

// ---------------- PAGE TEXT ----------------
const T = document.getElementById('texts');
const justified = [];
function add(cls, style, html) { const e = document.createElement('div'); e.className = cls; e.setAttribute('style', style); e.innerHTML = html; T.appendChild(e); return e; }
function addJ(style, html, width) { const e = add('jj', style, '<span>' + html + '</span>'); justified.push([e, width]); return e; }
function justifyAll() {
  justified.forEach(([e, w]) => {
    e.style.wordSpacing = '0px';
    const nat = e.firstChild.getBoundingClientRect().width;
    const n = (e.textContent.match(/[ \u00a0]/g) || []).length;
    if (n > 0) e.style.wordSpacing = ((w - nat) / n).toFixed(3) + 'px';
  });
}

add('t', 'left:100px;top:92px;font-size:18.5px;line-height:24px;font-style:italic;', 'A.S. Kulathuvayal et al.');
add('t', 'right:100px;top:92px;font-size:18.5px;line-height:24px;font-style:italic;', 'Journal of Alloys and Compounds 1039 (2025) 182949');

const capLines = [
 '<b>Fig. 4.</b>&nbsp; Electronic band structure and density of states for a) pure <i>β</i>-Ga<sub>2</sub>O<sub>3</sub>, helium atom at b) gallium vacancy site I, c) gallium vacancy site II, d) oxygen vacancy site',
 'I, e) oxygen vacancy site II, f) oxygen vacancy site III, and g–h) interstitial sites I and II respectively. The blue arrows indicate the direct bandgap values in eV.'
];
capLines.forEach((l, i) => addJ(`left:100px;top:${1242 + i*25}px;height:25px;font-size:19.8px;line-height:25px;`, l, 1400));

add('t', 'left:100px;top:1346px;font-size:20px;line-height:24px;font-weight:bold;', 'Table 2');
add('t', 'left:100px;top:1371px;font-size:21px;line-height:24px;', 'Electronic band gap and lattice volume change when one helium atom is introduced into the crystallographic matrix of <i>β</i>-Ga<sub>2</sub>O<sub>3</sub>.');
add('rule', 'top:1399px;', '');
add('rule', 'top:1573px;', '');
const colX = [117, 313, 422, 467, 617, 770, 915, 1061, 1214, 1363];
const valX = [313, 467, 617, 770, 915, 1061, 1214, 1363];
const cellStyle = (x, yc) => `left:${x}px;top:${yc-11}px;font-size:19px;line-height:22px;`;
tableHead1.forEach((h, i) => add('t', cellStyle(colX[i], 1420), h));
tableHead2.forEach((h, i) => { if (h) add('t', cellStyle(colX[i], 1443), h); });
add('t', cellStyle(117, 1465), 'Band gap (eV)');
bandGapValues.forEach((v, i) => add('t', cellStyle(valX[i], 1465), v));
add('t', cellStyle(117, 1488), 'Lattice volume');
add('t', cellStyle(134, 1511), 'change<sup class="lk">*</sup>(%)');
latticeChangeValues.forEach((v, i) => add('t', cellStyle(valX[i], 1488), v));
add('t', cellStyle(117, 1534), 'Energy per atom (eV/');
add('t', cellStyle(134, 1557), 'atom)');
energyPerAtomValues.forEach((v, i) => add('t', cellStyle(valX[i], 1534), v));
add('t', 'left:116px;top:1582px;font-size:18px;line-height:22px;', '<sup>*</sup>');
add('t', 'left:132px;top:1584px;font-size:21px;line-height:22px;', 'Lattice volume change is measured after relaxation with one helium atom introduced at lattice or interstitial sites.');

const leftLines = [
 ['occupation site under equilibrium conditions. Our calculations indicate', 1, 0],
 ['that the formation energies for helium at all vacancy sites are relatively', 1, 0],
 ['high, ranging from 14.17 to 21.23 eV, as shown in <span class="lk">Table S1</span>. This trend', 1, 0],
 ['can be attributed to two key factors: 1) The chemically inert nature of', 1, 0],
 ['the helium atom, which prevents it from forming strong bonds with host', 1, 0],
 ['atoms such as gallium or oxygen, evidenced by increased bond lengths', 1, 0],
 ['and reduced coordination with surrounding atoms, 2) injection of heli-', 1, 0],
 ['um into the dense oxide matrix of <i>β</i>-Ga<sub>2</sub>O<sub>3</sub> necessitates bond breaking', 1, 0],
 ['without the formation of any compensatory bonding interaction with', 1, 0],
 ['helium.', 0, 0],
 ['Among the defect sites evaluated, helium incorporation at interstitial', 1, 1],
 ['sites is found to be energetically more favorable than at any vacancy site,', 1, 0]
];
const rightLines = [
 ['as shown in <span class="lk">Table S2</span>. This clearly suggests that, under equilibrium', 1, 0],
 ['conditions, helium atoms preferentially occupy interstitial positions in', 1, 0],
 ['<i>β</i>-Ga<sub>2</sub>O<sub>3</sub>. This observation aligns with prior findings in other wide-', 1, 0],
 ['bandgap oxides, such as Al<sub>2</sub>O<sub>3</sub>, TiO<sub>2</sub>, and Y<sub>2</sub>O<sub>3</sub>, where helium simi-', 1, 0],
 ['larly favors interstitial occupancy <span class="lk">[76]</span>.', 0, 0],
 ['Furthermore, NEB calculations reveal that helium migration barriers', 1, 1],
 ['to neighboring gallium or oxygen vacancies are considerably high, as', 1, 0],
 ['illustrated in <span class="lk">Figure S3</span>, implying limited mobility under equilibrium', 1, 0],
 ['conditions. However, under irradiation conditions, particularly with', 1, 0],
 ['high-energy helium-ions, helium interstitials become mobile and grad-', 1, 0],
 ['ually accumulate at vacancy sites, ultimately leading to the formation of', 1, 0],
 ['He–vacancy complexes and nanobubbles. Such clustering effects have', 1, 0]
];
function column(lines, x0, w) {
  lines.forEach((ln, i) => {
    const top = (1640 + i * 28.1).toFixed(1);
    const ind = ln[2] ? 33 : 0;
    const st = `left:${x0+ind}px;top:${top}px;height:28px;font-size:22.3px;line-height:28px;`;
    if (ln[1]) addJ(st, ln[0], w - ind); else add('t', st, ln[0]);
  });
}
column(leftLines, 100, 676);
column(rightLines, 823, 677);
add('t', 'left:794px;top:2030px;font-size:18px;line-height:24px;', '7');
justifyAll();
if (document.fonts && document.fonts.ready) document.fonts.ready.then(justifyAll);
</script>
</body></html>
